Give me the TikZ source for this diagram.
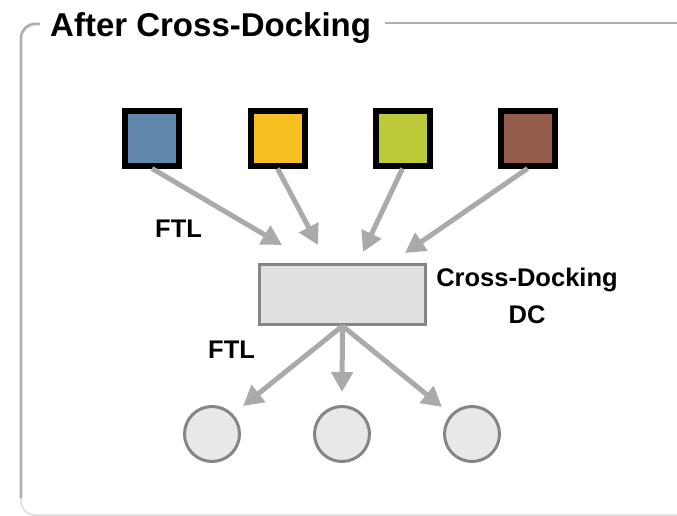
\documentclass[tikz,border=0pt]{standalone}
\usepackage{fontspec}
\setmainfont{Liberation Sans}
\usetikzlibrary{arrows.meta}

\definecolor{supblue}{HTML}{5F87AC}
\definecolor{supyellow}{HTML}{F7C022}
\definecolor{supgreen}{HTML}{BBC93A}
\definecolor{supbrown}{HTML}{955C4B}
\definecolor{flowgray}{HTML}{AAAAAA}
\definecolor{dcfill}{HTML}{E0E0E0}
\definecolor{storefill}{HTML}{E8E8E8}
\definecolor{edgegray}{HTML}{858585}
\definecolor{framegray}{HTML}{B0B0B0}
\definecolor{framelight}{HTML}{DCDCDC}

\begin{document}
\begin{tikzpicture}[
  supplier/.style={rectangle,draw=black,line width=6pt,minimum size=54pt,inner sep=0pt},
  dcbox/.style={rectangle,draw=edgegray,fill=dcfill,line width=3pt,minimum width=166pt,minimum height=60pt,inner sep=0pt},
  store/.style={circle,draw=edgegray,fill=storefill,line width=3pt,minimum size=55pt,inner sep=0pt},
  flow/.style={draw=flowgray,line width=5pt,-{Triangle[length=20pt,width=21pt]}},
  lbl/.style={font=\bfseries\fontsize{25.5}{37}\selectfont,inner sep=0pt},
  frame/.style={draw=framegray,line width=2.8pt,rounded corners=14pt}
]

\useasboundingbox (0pt,0pt) rectangle (677pt,-516pt);

%frame
\draw [frame] (40pt,-24pt) -- (21pt,-24pt) -- (21pt,-498pt);
\draw [frame,draw=framelight,line width=1.5pt] (21pt,-498pt) -- (21pt,-515pt) -- (700pt,-515pt);
\draw [frame] (385pt,-23pt) -- (700pt,-23pt);
\node (title) at(50pt,-36.5pt) [anchor=base west,inner sep=0pt,font=\bfseries\fontsize{33}{40}\selectfont] {After Cross-Docking};

%suppliers
\node (s1) at(152pt,-138.5pt) [supplier,fill=supblue] {};
\node (s2) at(277.5pt,-138.5pt) [supplier,fill=supyellow] {};
\node (s3) at(402.5pt,-138.5pt) [supplier,fill=supgreen] {};
\node (s4) at(527.5pt,-138.5pt) [supplier,fill=supbrown] {};

\node (dc) at(342.5pt,-294.5pt) [dcbox] {};
\node (dclabel) at(527pt,-268pt) [lbl,anchor=north,align=center] {Cross-Docking\\DC};

\coordinate (in1) at(282pt,-245pt);
\coordinate (in2) at(318pt,-245pt);
\coordinate (in3) at(363pt,-252pt);
\coordinate (in4) at(405pt,-253pt);

\path (s1.south) edge[flow] (in1);
\path (s2.south) edge[flow] (in2);
\path (s3.south) edge[flow] (in3);
\path (s4.south) edge[flow] (in4);

\node (ftlin) at(155pt,-237pt) [lbl,anchor=base west] {FTL};

%stores
\node (c1) at(212pt,-434pt) [store] {};
\node (c2) at(342pt,-434pt) [store] {};
\node (c3) at(472pt,-434pt) [store] {};

\coordinate (out1) at(243pt,-406pt);
\coordinate (out2) at(342pt,-392pt);
\coordinate (out3) at(442pt,-407pt);

\path (dc.south) edge[flow] (out1);
\path (dc.south) edge[flow] (out2);
\path (dc.south) edge[flow] (out3);

\node (ftlout) at(208pt,-358pt) [lbl,anchor=base west] {FTL};

\end{tikzpicture}
\end{document}
